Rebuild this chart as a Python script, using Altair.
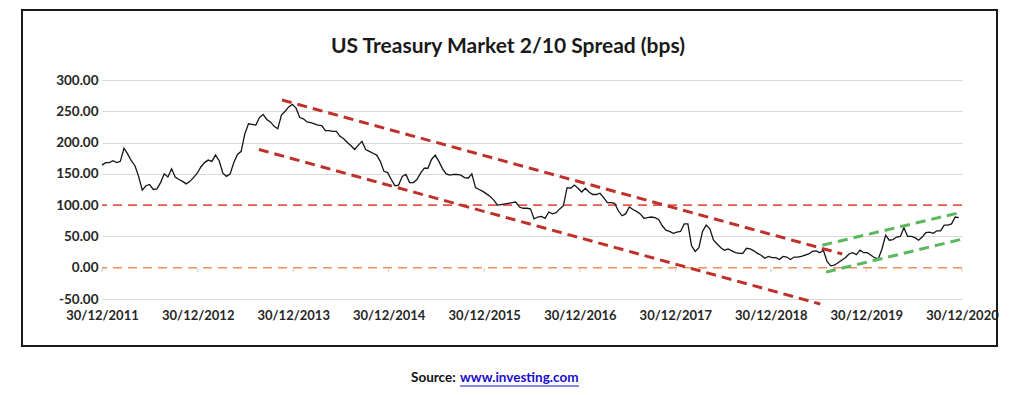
import altair as alt
import pandas as pd

title_text = "US Treasury Market 2/10 Spread (bps)"
source_label = "Source:"
source_link = "www.investing.com"

# main series: one reading every 14 days from 30/12/2011
start_date = "2011-12-30"
step_days = 14
spread_values = [
    164, 168, 168, 171, 168, 170, 191, 182, 171, 163, 146, 124, 131, 133, 125, 126, 136,
    150, 145, 158, 145, 141, 138, 134, 138, 144, 151, 161, 168, 172, 170, 180, 171, 151,
    146, 150, 168, 181, 186, 214, 230, 229, 228, 240, 245, 237, 233, 226, 222, 244, 250,
    257, 261, 255, 240, 238, 233, 232, 230, 228, 227, 219, 219, 218, 218, 210,
    206, 200, 195, 189, 196, 202, 189, 186, 183, 180, 170, 154, 152, 141, 131, 132, 146,
    149, 136, 136, 141, 151, 159, 159, 173, 180, 170, 158, 150, 148, 149, 149,
    148, 144, 143, 150, 128, 125, 122, 118, 114, 108, 100, 101, 102, 103, 104, 105, 97,
    95, 95, 94, 78, 81, 82, 79, 89, 86, 88, 94, 99, 128, 127, 132, 127, 121,
    127, 121, 117, 117, 119, 112, 104, 104, 103, 91, 83, 86, 97, 93, 90, 86, 79, 80,
    81, 80, 77, 67, 60, 58, 55, 57, 58, 70, 70, 35, 26, 32, 58,
    68, 62, 44, 38, 32, 28, 30, 27, 24, 23, 23, 31, 30, 27, 23, 20, 15, 18, 16, 16,
    13, 18, 17, 13, 17, 17, 18, 20, 22, 26, 27, 24, 28,
    10, 3, 4, 8, 12, 16, 22, 24, 21, 28, 24, 24, 20, 16, 14, 30, 52, 44, 45, 49, 50,
    64, 50, 50, 48, 44, 49, 56, 57, 55, 59, 59, 68, 68, 70, 81, 80,
]

year_ticks = [2011, 2012, 2013, 2014, 2015, 2016, 2017, 2018, 2019, 2020]
y_ticks = [-50, 0, 50, 100, 150, 200, 250, 300]

ref_levels = [100, 0]
ref_colors = ["#e5584a", "#f09060"]

trend_names = ["red_upper", "red_lower", "green_upper", "green_lower"]
trend_start_dates = ["2013-11-17", "2013-08-21", "2019-07-15", "2019-07-29"]
trend_end_dates = ["2019-09-29", "2019-07-07", "2020-12-21", "2021-01-03"]
trend_start_vals = [268, 189, 36, -7]
trend_end_vals = [22, -58, 88, 46]
trend_colors = ["#c0302a", "#c0302a", "#5cb85c", "#5cb85c"]

# ---------------------------------------------------------------------------
dates = pd.date_range(start_date, periods=len(spread_values), freq=f"{step_days}D")
df = pd.DataFrame({"date": dates, "spread": spread_values})

trend_rows = []
for n, sd, ed, sv, ev, c in zip(trend_names, trend_start_dates, trend_end_dates,
                                 trend_start_vals, trend_end_vals, trend_colors):
    trend_rows.append({"group": n, "date": pd.Timestamp(sd), "value": sv, "color": c})
    trend_rows.append({"group": n, "date": pd.Timestamp(ed), "value": ev, "color": c})
trend_df = pd.DataFrame(trend_rows)

ref_df = pd.DataFrame({"level": ref_levels, "color": ref_colors})
tick_df = pd.DataFrame({"date": [pd.Timestamp(f"{y}-12-30") for y in year_ticks]})
one = pd.DataFrame({"k": [0]})

FONT = "Lato"
LABEL_COLOR = "#262626"

x_scale = alt.Scale(domain=[alt.DateTime(year=2011, month=12, date=30),
                            alt.DateTime(year=2020, month=12, date=30)])
y_scale = alt.Scale(domain=[-50, 300], nice=False, zero=False)

x_axis = alt.Axis(
    values=[alt.DateTime(year=y, month=12, date=30) for y in year_ticks],
    format="%d/%m/%Y", labelFont=FONT, labelFontWeight="bold", labelFontSize=13,
    labelColor=LABEL_COLOR, labelPadding=10, ticks=False, domain=False, grid=False,
    title=None, labelOverlap=False, labelFlush=False, tickCount=20,
)
y_axis = alt.Axis(
    values=y_ticks, tickCount=12,
    labelExpr="replace(format(datum.value, '.2f'), '\u2212', '-')",
    labelFont=FONT, labelFontWeight="bold", labelFontSize=13.5, labelColor=LABEL_COLOR,
    labelPadding=4, ticks=False, domain=False, grid=True, labelOverlap=False,
    labelFlush=False,
    gridColor=alt.condition("datum.value == 0 || datum.value == 100",
                            alt.value("transparent"), alt.value("#d9d9d9")),
    gridWidth=1, title=None,
)

frame = alt.Chart(one).mark_rect(fill="white", fillOpacity=0, stroke="#1a1a1a", strokeWidth=2).encode(
    x=alt.value(-80), x2=alt.value(895), y=alt.value(-70), y2=alt.value(266)
)

ticks = alt.Chart(tick_df).mark_rule(color="#c8c8c8", strokeWidth=1).encode(
    x=alt.X("date:T", scale=x_scale, axis=x_axis), y=alt.datum(-1), y2=alt.datum(-7)
)

refs = alt.Chart(ref_df).mark_rule(strokeDash=[9, 6], strokeWidth=1.6).encode(
    y=alt.Y("level:Q", scale=y_scale, axis=y_axis),
    color=alt.Color("color:N", scale=None),
)

line = alt.Chart(df).mark_line(color="#141414", strokeWidth=1.3).encode(
    x=alt.X("date:T", scale=x_scale, axis=x_axis),
    y=alt.Y("spread:Q", scale=y_scale, axis=y_axis),
)

trends = alt.Chart(trend_df).mark_line(strokeDash=[10, 6], strokeWidth=3).encode(
    x=alt.X("date:T", scale=x_scale, axis=x_axis),
    y=alt.Y("value:Q", scale=y_scale, axis=y_axis),
    detail="group:N",
    color=alt.Color("color:N", scale=None),
)

title_mark = alt.Chart(one).mark_text(
    font=FONT, fontSize=21, fontWeight="bold", color="#1a1a1a", align="center", baseline="middle"
).encode(x=alt.value(406), y=alt.value(-33), text=alt.value(title_text))

src1 = alt.Chart(one).mark_text(
    font=FONT, fontSize=13.5, fontWeight="bold", color="#111111", align="left", baseline="middle"
).encode(x=alt.value(309), y=alt.value(298), text=alt.value(source_label))

src2 = alt.Chart(one).mark_text(
    font=FONT, fontSize=13.5, fontWeight="bold", color="#1a0dcc", align="left", baseline="middle"
).encode(x=alt.value(358), y=alt.value(298), text=alt.value(source_link))

underline = alt.Chart(one).mark_rule(color="#1a0dcc", strokeWidth=1).encode(
    x=alt.value(358), x2=alt.value(477), y=alt.value(306)
)

chart = alt.layer(frame, refs, ticks, line, trends, title_mark, src1, src2, underline).properties(
    width=860, height=219,
    padding={"left": 94, "top": 72, "right": 54, "bottom": 88},
    autosize=alt.AutoSizeParams(type="none"),
    background="white",
).configure_view(stroke=None)

chart.save("out.html", embed_options={"renderer": "svg", "actions": False})
